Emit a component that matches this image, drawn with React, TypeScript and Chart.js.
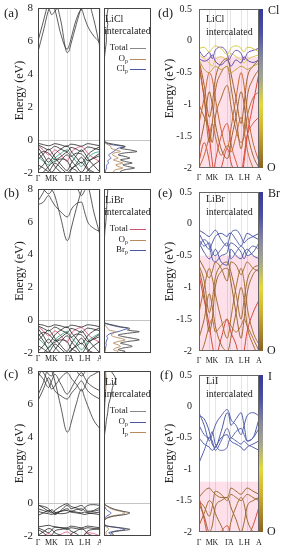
import React, { useEffect, useRef } from "react";
import { Chart, registerables } from "chart.js";
Chart.register(...registerables);

const SERIF = "'Liberation Serif', 'Times New Roman', serif";

// ---------- axes / k-path ----------
const K_TICKS = [0, 0.577, 0.91, 1.577, 1.777, 2.354, 2.687, 3.354];
const K_LABELS = ["Γ", "M", "K", "Γ", "A", "L", "H", "A"];
const K_PATH = [0, 0.29, 0.577, 0.74, 0.91, 1.24, 1.577, 1.677, 1.777, 2.07, 2.354, 2.52, 2.687, 3.02, 3.354];
const WIDE_Y_TICKS = [-2, 0, 2, 4, 6, 8];
const ZOOM_Y_TICKS = [-2, -1.5, -1, -0.5, 0, 0.5];

// ---------- (a) LiCl wide bands ----------
const A_BANDS = [
  [6.0, 7.2, 8.4, 8.8, 8.6, 7.2, 5.3, 5.4, 5.8, 7.0, 8.1, 8.6, 8.5, 7.3, 5.6],
  [5.35, 6.6, 7.9, 8.2, 7.9, 6.4, 5.5, 5.7, 6.1, 7.3, 7.9, 7.4, 6.9, 6.3, 5.9],
  [8.6, 8.3, 8.0, 7.6, 7.8, 8.3, 8.7, 8.8, 8.7, 8.4, 7.9, 8.1, 8.4, 8.7, 8.9],
  [-0.2, -0.28, -0.35, -0.3, -0.22, -0.3, -0.4, -0.32, -0.25, -0.3, -0.38, -0.3, -0.22, -0.28, -0.35],
  [-0.3, -0.45, -0.6, -0.5, -0.38, -0.55, -0.7, -0.6, -0.45, -0.55, -0.7, -0.55, -0.42, -0.5, -0.6],
  [-0.45, -0.9, -1.35, -1.15, -0.85, -0.55, -0.35, -0.45, -0.65, -1.05, -1.4, -1.2, -0.9, -0.6, -0.4],
  [-1.2, -0.85, -0.55, -0.75, -1.05, -1.5, -1.85, -1.7, -1.45, -0.95, -0.6, -0.8, -1.1, -1.55, -1.95],
  [-1.85, -1.5, -1.1, -1.3, -1.6, -1.95, -2.15, -2.05, -1.85, -1.45, -1.05, -1.3, -1.7, -1.95, -2.15],
  [-0.75, -1.2, -1.75, -1.95, -1.75, -1.25, -0.9, -1.0, -1.2, -1.6, -1.95, -1.75, -1.4, -1.05, -0.8],
  [-2.2, -1.95, -1.6, -1.4, -1.3, -1.15, -1.25, -1.45, -1.65, -1.85, -2.2, -2.1, -1.85, -1.5, -1.25],
  [-1.5, -1.7, -1.9, -1.65, -1.4, -1.7, -2.0, -1.9, -1.75, -1.55, -1.35, -1.55, -1.8, -2.05, -2.2],
  [-0.9, -0.7, -0.8, -1.0, -1.2, -1.0, -0.75, -0.85, -1.0, -0.8, -0.85, -1.05, -1.25, -1.1, -0.95],
  [-1.0, -1.3, -1.5, -1.3, -1.1, -0.8, -0.6, -0.7, -0.9, -1.3, -1.6, -1.4, -1.1, -0.8, -0.7],
  [-0.35, -0.6, -0.9, -0.8, -0.6, -0.9, -1.3, -1.1, -0.8, -0.5, -0.4, -0.55, -0.8, -1.1, -1.3],
];
const A_COLORS = ["#333", "#333", "#333", "#222", "#222", "#222", "#222", "#222", "#222", "#222", "#222", "#222", "#2a9d7a", "#e0406a"];

// ---------- (b) LiBr wide bands ----------
const B_BANDS = [
  [7.25, 7.8, 8.4, 8.0, 7.6, 6.2, 4.85, 5.0, 5.5, 6.8, 7.9, 8.3, 8.2, 6.6, 5.2],
  [7.05, 7.2, 7.6, 7.3, 7.0, 6.6, 6.3, 6.4, 6.7, 7.1, 7.2, 6.6, 6.0, 5.6, 5.4],
  [8.3, 8.0, 7.7, 7.9, 8.3, 8.6, 8.8, 8.8, 8.6, 8.2, 7.6, 7.9, 8.3, 8.5, 8.7],
  [-0.25, -0.3, -0.4, -0.35, -0.28, -0.35, -0.45, -0.38, -0.3, -0.35, -0.42, -0.35, -0.28, -0.32, -0.4],
  [-0.35, -0.5, -0.65, -0.55, -0.42, -0.6, -0.75, -0.65, -0.5, -0.6, -0.75, -0.6, -0.48, -0.55, -0.65],
  [-0.5, -0.95, -1.4, -1.2, -0.9, -0.6, -0.4, -0.5, -0.7, -1.1, -1.45, -1.25, -0.95, -0.65, -0.45],
  [-1.25, -0.9, -0.6, -0.8, -1.1, -1.55, -1.9, -1.75, -1.5, -1.0, -0.65, -0.85, -1.15, -1.6, -2.0],
  [-1.9, -1.55, -1.15, -1.35, -1.65, -2.0, -2.2, -2.1, -1.9, -1.5, -1.1, -1.35, -1.75, -2.0, -2.2],
  [-0.8, -1.25, -1.8, -2.0, -1.8, -1.3, -0.95, -1.05, -1.25, -1.65, -2.0, -1.8, -1.45, -1.1, -0.85],
  [-2.2, -2.0, -1.65, -1.45, -1.35, -1.2, -1.3, -1.5, -1.7, -1.9, -2.2, -2.1, -1.9, -1.55, -1.3],
  [-1.55, -1.75, -1.95, -1.7, -1.45, -1.75, -2.05, -1.95, -1.8, -1.6, -1.4, -1.6, -1.85, -2.1, -2.2],
  [-0.95, -0.75, -0.85, -1.05, -1.25, -1.05, -0.8, -0.9, -1.05, -0.85, -0.9, -1.1, -1.3, -1.15, -1.0],
  [-1.1, -1.4, -1.7, -1.5, -1.2, -0.9, -0.7, -0.8, -1.0, -1.4, -1.8, -1.6, -1.3, -1.0, -0.8],
  [-0.4, -0.65, -0.95, -0.85, -0.65, -0.95, -1.35, -1.15, -0.85, -0.55, -0.45, -0.6, -0.85, -1.15, -1.35],
];
const B_COLORS = ["#333", "#333", "#333", "#222", "#222", "#222", "#222", "#222", "#222", "#222", "#222", "#222", "#2a9d7a", "#e0406a"];

// ---------- (c) LiI wide bands ----------
const C_BANDS = [
  [6.55, 7.3, 8.2, 8.0, 7.4, 5.8, 4.3, 4.4, 4.8, 6.0, 6.9, 6.4, 5.9, 5.0, 4.5],
  [6.2, 6.9, 7.6, 7.2, 6.8, 6.5, 6.3, 6.4, 6.6, 7.0, 7.4, 7.1, 6.8, 6.5, 6.3],
  [7.9, 7.5, 7.0, 7.4, 7.8, 7.2, 6.6, 6.7, 6.9, 7.5, 7.9, 7.6, 7.3, 7.0, 6.8],
  [8.3, 7.9, 7.3, 6.9, 7.1, 7.6, 7.9, 7.8, 7.6, 7.2, 6.8, 7.0, 7.5, 7.8, 8.0],
  [7.6, 8.2, 7.8, 7.7, 8.1, 8.4, 8.6, 8.5, 8.3, 8.0, 7.7, 7.9, 8.2, 8.4, 8.5],
  [-0.1, -0.3, -0.5, -0.6, -0.45, -0.2, -0.05, -0.1, -0.2, -0.3, -0.45, -0.3, -0.15, -0.1, -0.15],
  [-0.15, -0.2, -0.35, -0.55, -0.7, -0.45, -0.15, -0.2, -0.35, -0.25, -0.15, -0.3, -0.5, -0.45, -0.25],
  [-0.35, -0.45, -0.55, -0.4, -0.55, -0.65, -0.6, -0.55, -0.5, -0.55, -0.6, -0.55, -0.6, -0.65, -0.7],
  [-0.5, -0.6, -0.65, -0.7, -0.6, -0.5, -0.45, -0.5, -0.55, -0.6, -0.65, -0.7, -0.65, -0.6, -0.55],
  [-0.75, -0.6, -0.45, -0.5, -0.65, -0.5, -0.35, -0.4, -0.5, -0.4, -0.35, -0.45, -0.55, -0.5, -0.4],
  [-1.45, -1.4, -1.35, -1.4, -1.45, -1.5, -1.5, -1.45, -1.4, -1.45, -1.5, -1.45, -1.4, -1.45, -1.5],
  [-1.5, -1.65, -1.8, -1.65, -1.45, -1.5, -1.6, -1.55, -1.5, -1.55, -1.6, -1.55, -1.5, -1.55, -1.6],
  [-1.6, -1.8, -2.05, -1.95, -1.7, -1.6, -1.55, -1.6, -1.7, -1.85, -2.05, -1.9, -1.7, -1.6, -1.55],
  [-1.95, -1.75, -1.55, -1.6, -1.8, -1.95, -2.1, -2.05, -1.9, -1.7, -1.55, -1.65, -1.85, -2.0, -2.1],
  [-2.1, -2.0, -1.85, -1.95, -2.1, -1.9, -1.75, -1.8, -1.9, -2.05, -2.1, -1.95, -1.8, -1.85, -2.0],
];
const C_COLORS = ["#333", "#333", "#333", "#333", "#333", "#222", "#222", "#222", "#222", "#222", "#222", "#222", "#222", "#222", "#e0508a"];

// ---------- (d) LiCl zoomed, projected bands ----------
const D_BANDS = [
  [-0.12, -0.1, -0.18, -0.12, -0.08, -0.12, -0.22, -0.18, -0.12, -0.08, -0.12, -0.18, -0.1, -0.12, -0.18],
  [-0.15, -0.25, -0.18, -0.28, -0.15, -0.1, -0.2, -0.3, -0.25, -0.15, -0.2, -0.3, -0.2, -0.15, -0.12],
  [-0.28, -0.32, -0.28, -0.22, -0.32, -0.38, -0.3, -0.34, -0.4, -0.3, -0.35, -0.25, -0.3, -0.34, -0.3],
  [-0.22, -0.28, -0.35, -0.4, -0.3, -0.25, -0.3, -0.25, -0.2, -0.25, -0.3, -0.35, -0.3, -0.25, -0.22],
  [-0.3, -0.45, -0.5, -0.45, -0.4, -0.45, -0.4, -0.45, -0.5, -0.45, -0.4, -0.42, -0.45, -0.4, -0.35],
  [-0.3, -0.7, -1.2, -1.0, -0.6, -0.35, -0.28, -0.35, -0.5, -0.9, -1.3, -1.0, -0.6, -0.4, -0.3],
  [-0.4, -0.9, -1.6, -1.3, -0.8, -0.5, -0.4, -0.5, -0.7, -1.2, -1.7, -1.4, -0.9, -0.6, -0.45],
  [-1.3, -0.9, -0.5, -0.6, -0.9, -1.4, -1.7, -1.6, -1.4, -0.9, -0.5, -0.7, -1.1, -1.6, -1.9],
  [-1.7, -1.3, -0.8, -1.0, -1.3, -1.7, -1.85, -1.8, -1.6, -1.2, -0.8, -1.0, -1.4, -1.8, -2.0],
  [-0.35, -0.9, -1.5, -1.9, -2.2, -2.0, -1.7, -1.75, -1.9, -2.1, -2.2, -1.9, -1.5, -1.0, -0.5],
  [-2.0, -1.8, -1.5, -1.3, -1.5, -1.8, -1.65, -1.65, -1.75, -1.5, -1.2, -1.4, -1.7, -2.0, -2.2],
  [-1.0, -1.2, -1.4, -1.6, -1.2, -0.9, -0.7, -0.8, -1.0, -1.4, -1.6, -1.5, -1.2, -0.9, -0.8],
  [-1.9, -1.6, -1.9, -2.2, -1.9, -1.5, -1.3, -1.4, -1.6, -1.9, -2.1, -1.8, -1.5, -1.3, -1.2],
];
const D_COLORS = ["#d6c84a", "#6a4db0", "#5a48a8", "#d8cc50", "#b8a040", "#a0612e", "#a8682e", "#c8652e", "#9a6230", "#e0463a", "#c0703a", "#a86a30", "#d8503a"];

// ---------- (e) LiBr zoomed ----------
const E_BANDS = [
  [-0.1, -0.15, -0.2, -0.15, -0.1, -0.25, -0.35, -0.25, -0.15, -0.1, -0.2, -0.3, -0.25, -0.2, -0.15],
  [-0.15, -0.3, -0.4, -0.3, -0.2, -0.15, -0.2, -0.15, -0.15, -0.25, -0.35, -0.25, -0.15, -0.2, -0.25],
  [-0.25, -0.35, -0.3, -0.45, -0.5, -0.4, -0.3, -0.4, -0.55, -0.45, -0.35, -0.4, -0.5, -0.45, -0.3],
  [-0.3, -0.45, -0.55, -0.5, -0.4, -0.6, -0.65, -0.55, -0.4, -0.5, -0.55, -0.45, -0.4, -0.5, -0.55],
  [-0.35, -0.25, -0.35, -0.55, -0.6, -0.5, -0.45, -0.35, -0.3, -0.35, -0.45, -0.55, -0.45, -0.35, -0.4],
  [-0.55, -0.7, -0.85, -0.75, -0.6, -0.7, -0.9, -0.75, -0.6, -0.65, -0.8, -0.7, -0.6, -0.7, -0.75],
  [-0.65, -0.9, -1.4, -1.2, -0.85, -0.65, -0.6, -0.65, -0.75, -1.1, -1.5, -1.2, -0.9, -0.7, -0.65],
  [-0.7, -1.1, -1.7, -1.5, -1.0, -0.75, -0.7, -0.75, -0.9, -1.4, -1.8, -1.5, -1.1, -0.8, -0.7],
  [-1.4, -1.0, -0.7, -0.85, -1.1, -1.5, -1.8, -1.7, -1.5, -1.0, -0.7, -0.9, -1.3, -1.7, -1.9],
  [-1.8, -1.5, -1.1, -1.3, -1.6, -1.9, -2.0, -1.95, -1.8, -1.4, -1.0, -1.2, -1.6, -1.9, -2.1],
  [-0.8, -1.2, -1.6, -1.9, -2.1, -1.8, -1.5, -1.6, -1.7, -1.9, -2.2, -2.0, -1.7, -1.4, -1.2],
  [-2.1, -1.9, -1.6, -1.5, -1.7, -1.6, -1.5, -1.55, -1.6, -1.7, -1.6, -1.5, -1.6, -1.8, -2.0],
];
const E_COLORS = ["#4a55a8", "#4a55a8", "#5560aa", "#4a55a8", "#5560aa", "#a06a30", "#a06a30", "#9a6430", "#a87030", "#a06a30", "#d8443a", "#b07034"];

// ---------- (f) LiI zoomed ----------
const F_BANDS = [
  [-0.1, -0.3, -0.55, -0.45, -0.3, -0.15, -0.05, -0.1, -0.2, -0.3, -0.45, -0.3, -0.15, -0.1, -0.15],
  [-0.15, -0.2, -0.4, -0.6, -0.65, -0.4, -0.1, -0.15, -0.3, -0.2, -0.1, -0.3, -0.55, -0.5, -0.2],
  [-0.3, -0.45, -0.5, -0.4, -0.6, -0.7, -0.65, -0.55, -0.5, -0.55, -0.6, -0.55, -0.6, -0.65, -0.7],
  [-0.5, -0.6, -0.65, -0.7, -0.65, -0.5, -0.45, -0.5, -0.55, -0.6, -0.65, -0.7, -0.65, -0.6, -0.55],
  [-0.9, -0.7, -0.5, -0.55, -0.7, -0.55, -0.35, -0.4, -0.5, -0.4, -0.35, -0.45, -0.55, -0.5, -0.35],
  [-1.45, -1.35, -1.3, -1.35, -1.4, -1.45, -1.45, -1.4, -1.3, -1.35, -1.4, -1.35, -1.3, -1.35, -1.4],
  [-1.5, -1.6, -1.75, -1.6, -1.35, -1.4, -1.5, -1.45, -1.4, -1.45, -1.5, -1.45, -1.4, -1.45, -1.5],
  [-1.55, -1.75, -2.0, -1.9, -1.6, -1.5, -1.45, -1.5, -1.6, -1.8, -2.0, -1.85, -1.6, -1.5, -1.45],
  [-1.9, -1.7, -1.5, -1.55, -1.7, -1.9, -2.1, -2.0, -1.85, -1.6, -1.45, -1.55, -1.8, -2.0, -2.1],
  [-1.45, -1.8, -2.2, -2.3, -2.2, -2.0, -1.9, -1.95, -2.1, -2.2, -2.3, -2.2, -2.1, -1.9, -1.6],
];
const F_COLORS = ["#4d5aaa", "#4d5aaa", "#5862ac", "#4d5aaa", "#5862ac", "#9a6a30", "#a07034", "#9a6430", "#a06a30", "#d84a3a"];

// ---------- DOS ----------
const DOS_E = [8, 7.5, 7, 6.5, 6, 5.5, 5, 4.5, 4, 3, 2, 1, 0, -0.1, -0.2, -0.3, -0.4, -0.5, -0.6, -0.7, -0.8, -0.9, -1.0, -1.1, -1.2, -1.3, -1.4, -1.5, -1.6, -1.7, -1.8, -1.9, -2.0];
const DOS_A_TOTAL = [0.9, 0.6, 0.8, 0.5, 0.5, 0.3, 0.1, 0, 0, 0, 0, 0, 0, 0.2, 1.0, 3.0, 4.5, 3.5, 5.5, 7.0, 4.0, 3.0, 4.5, 5.5, 3.5, 4.5, 6.0, 4.0, 5.0, 6.5, 4.5, 3.5, 4.0];
const DOS_A_OP = [0.1, 0.1, 0.1, 0.1, 0.1, 0, 0, 0, 0, 0, 0, 0, 0, 0, 0.3, 1.0, 1.5, 1.5, 2.5, 3.5, 2.0, 1.8, 2.5, 3.0, 2.0, 3.0, 4.0, 2.5, 3.0, 4.0, 2.5, 2.0, 2.5];
const DOS_A_XP = [0.1, 0.1, 0.1, 0.1, 0.1, 0, 0, 0, 0, 0, 0, 0, 0, 0.1, 0.5, 2.0, 4.5, 3.0, 2.5, 2.0, 1.5, 1.0, 1.2, 1.5, 1.0, 0.8, 1.0, 0.6, 0.5, 0.6, 0.4, 0.3, 0.4];
const DOS_B_TOTAL = [0.8, 0.7, 0.6, 0.5, 0.4, 0.2, 0.1, 0, 0, 0, 0, 0, 0, 0, 0.5, 2.0, 3.5, 5.5, 5.0, 7.5, 5.0, 3.0, 4.0, 6.0, 7.5, 5.0, 3.5, 5.0, 6.0, 4.0, 3.0, 4.5, 3.5];
const DOS_B_OP = [0.1, 0.1, 0.1, 0.1, 0.1, 0, 0, 0, 0, 0, 0, 0, 0, 0, 0.1, 0.3, 0.5, 0.8, 1.0, 2.5, 2.0, 1.5, 2.0, 3.5, 4.5, 3.0, 2.0, 3.0, 3.5, 2.5, 2.0, 3.0, 2.5];
const DOS_B_XP = [0.1, 0.1, 0.1, 0.1, 0.1, 0, 0, 0, 0, 0, 0, 0, 0, 0, 0.3, 1.5, 3.0, 5.0, 4.0, 3.0, 1.5, 0.8, 0.6, 0.8, 0.6, 0.5, 0.4, 0.5, 0.4, 0.3, 0.3, 0.2, 0.2];
const DOS_C_TOTAL = [1.5, 2.5, 1.8, 1.5, 1.0, 0.8, 0.5, 0.3, 0.05, 0, 0, 0, 0, 0.2, 0.8, 1.5, 2.5, 4.0, 5.5, 4.5, 2.0, 0.8, 0.2, 0, 0, 0.1, 0.8, 3.5, 5.5, 3.0, 1.5, 2.0, 1.5];
const DOS_C_OP = [0.2, 0.3, 0.2, 0.2, 0.1, 0.1, 0, 0, 0, 0, 0, 0, 0, 0, 0.1, 0.3, 0.5, 1.0, 1.5, 1.2, 0.5, 0.2, 0, 0, 0, 0.1, 0.6, 3.0, 4.5, 2.5, 1.0, 1.5, 1.0];
const DOS_C_XP = [0.3, 0.5, 0.4, 0.3, 0.2, 0.1, 0.1, 0, 0, 0, 0, 0, 0, 0.2, 0.7, 1.2, 2.0, 3.5, 4.5, 3.5, 1.5, 0.6, 0.1, 0, 0, 0, 0.2, 0.8, 1.0, 0.6, 0.4, 0.5, 0.4];

const C_TOTAL = "#444";
const C_OP = "#b58a5c";
const C_XP = "#4a58a8";
const PINK = "rgba(252, 214, 226, 0.75)";
const BAR_STOPS: [number, string][] = [
  [0, "#35399c"], [0.15, "#4b50a2"], [0.32, "#8c8ca0"], [0.45, "#a9a98e"],
  [0.6, "#e2da3a"], [0.75, "#d2b232"], [0.9, "#a8822a"], [1, "#896222"],
];

type Txt = { t?: string; sub?: string; x: number; y: number; size?: number; align?: "left" | "right" | "center"; color?: string; line?: [number, number] };
type Overlay = { ox: number; oy: number; texts?: Txt[]; pinkFrom?: number; fermi?: number; frame?: string; bar?: [string, string] };

function overlayPlugin(o: Overlay) {
  return {
    id: "overlay",
    beforeDraw(chart: any) {
      const { ctx, chartArea: a } = chart;
      if (o.pinkFrom !== undefined) {
        const y = chart.scales.y.getPixelForValue(o.pinkFrom);
        ctx.save();
        ctx.fillStyle = PINK;
        ctx.fillRect(a.left, y, a.right - a.left, a.bottom - y);
        ctx.restore();
      }
    },
    beforeDatasetsDraw(chart: any) {
      const { ctx, chartArea: a } = chart;
      if (o.fermi !== undefined) {
        const y = Math.round(chart.scales.y.getPixelForValue(o.fermi)) + 0.5;
        ctx.save();
        ctx.strokeStyle = "#c4c4c4";
        ctx.lineWidth = 1;
        ctx.beginPath();
        ctx.moveTo(a.left, y);
        ctx.lineTo(a.right, y);
        ctx.stroke();
        ctx.restore();
      }
    },
    afterDraw(chart: any) {
      const { ctx, chartArea: a } = chart;
      ctx.save();
      if (o.frame) {
        ctx.strokeStyle = o.frame;
        ctx.lineWidth = 1;
        ctx.strokeRect(a.left + 0.5, a.top + 0.5, a.right - a.left - 1, a.bottom - a.top - 1);
      }
      if (o.bar) {
        const g = ctx.createLinearGradient(0, a.top, 0, a.bottom);
        BAR_STOPS.forEach(([s, c]) => g.addColorStop(s, c));
        ctx.fillStyle = g;
        ctx.fillRect(a.right, a.top, 4, a.bottom - a.top);
        ctx.fillStyle = "#222";
        ctx.font = `12px ${SERIF}`;
        ctx.textBaseline = "middle";
        ctx.textAlign = "left";
        ctx.fillText(o.bar[0], a.right + 9, a.top + 2);
        ctx.fillText(o.bar[1], a.right + 8, a.bottom);
      }
      for (const t of o.texts || []) {
        const x = t.x - o.ox;
        const y = t.y - o.oy;
        if (t.line) {
          ctx.strokeStyle = t.color || "#222";
          ctx.lineWidth = 1;
          ctx.beginPath();
          ctx.moveTo(t.line[0] - o.ox, Math.round(y) + 0.5);
          ctx.lineTo(t.line[1] - o.ox, Math.round(y) + 0.5);
          ctx.stroke();
          continue;
        }
        const size = t.size || 10;
        const subSize = Math.round(size * 0.7);
        ctx.textBaseline = "middle";
        ctx.textAlign = "left";
        ctx.fillStyle = t.color || "#222";
        ctx.font = `${size}px ${SERIF}`;
        const w1 = ctx.measureText(t.t || "").width;
        let w2 = 0;
        if (t.sub) {
          ctx.font = `${subSize}px ${SERIF}`;
          w2 = ctx.measureText(t.sub).width;
        }
        let sx = x;
        if (t.align === "right") sx = x - w1 - w2;
        else if (t.align === "center") sx = x - (w1 + w2) / 2;
        ctx.font = `${size}px ${SERIF}`;
        ctx.fillText(t.t || "", sx, y);
        if (t.sub) {
          ctx.font = `${subSize}px ${SERIF}`;
          ctx.fillText(t.sub, sx + w1, y + size * 0.32);
        }
      }
      ctx.restore();
    },
  };
}

type BandP = {
  bands: number[][]; colors: string[]; lw: number;
  yMin: number; yMax: number; yTicks: number[]; tickSize: number; tickPad: number;
  padL: number; axisW: number; padT: number; padR: number; xH: number; xPad: number;
};

function bandConfig(p: BandP, ov: Overlay): any {
  return {
    type: "line",
    data: {
      datasets: p.bands.map((b, i) => ({
        data: K_PATH.map((x, j) => ({ x, y: b[j] })),
        borderColor: p.colors[i],
        borderWidth: p.lw,
        pointRadius: 0,
        fill: false,
        cubicInterpolationMode: "monotone",
      })),
    },
    options: {
      animation: false,
      responsive: false,
      events: [],
      layout: { padding: { left: p.padL, top: p.padT, right: p.padR, bottom: 0 } },
      plugins: { legend: { display: false }, tooltip: { enabled: false } },
      scales: {
        x: {
          type: "linear",
          min: K_TICKS[0],
          max: K_TICKS[K_TICKS.length - 1],
          afterBuildTicks: (s: any) => { s.ticks = K_TICKS.map((v) => ({ value: v })); },
          afterFit: (s: any) => { s.height = p.xH; s.paddingLeft = 0; s.paddingRight = 0; },
          grid: { color: "rgba(0,0,0,0.13)", lineWidth: 0.8, drawTicks: false },
          border: { display: false },
          ticks: {
            autoSkip: false, maxRotation: 0, minRotation: 0, padding: p.xPad, color: "#222",
            font: { family: SERIF, size: 8 },
            callback: (_v: any, i: number) => K_LABELS[i],
          },
        },
        y: {
          min: p.yMin,
          max: p.yMax,
          afterBuildTicks: (s: any) => { s.ticks = p.yTicks.map((v) => ({ value: v })); },
          afterFit: (s: any) => { s.width = p.axisW; s.paddingTop = 0; s.paddingBottom = 0; },
          grid: { display: false, drawTicks: false },
          border: { display: false },
          ticks: { padding: p.tickPad, color: "#222", font: { family: SERIF, size: p.tickSize }, callback: (v: any) => String(v) },
          title: { display: true, text: "Energy (eV)", color: "#222", font: { family: SERIF, size: 12 }, padding: { top: 0, bottom: 0 } },
        },
      },
    },
    plugins: [overlayPlugin(ov)],
  };
}

function dosConfig(series: number[][], colors: string[], pad: { left: number; right: number; top: number; bottom: number }, ov: Overlay): any {
  return {
    type: "line",
    data: {
      datasets: series.map((s, i) => ({
        data: DOS_E.map((e, j) => ({ x: s[j], y: e })),
        borderColor: colors[i],
        borderWidth: 0.9,
        pointRadius: 0,
        fill: false,
        tension: 0.3,
      })),
    },
    options: {
      animation: false,
      responsive: false,
      events: [],
      layout: { padding: pad },
      plugins: { legend: { display: false }, tooltip: { enabled: false } },
      scales: {
        x: { type: "linear", min: 0, max: 10, display: false },
        y: { type: "linear", min: -2, max: 8, display: false },
      },
    },
    plugins: [overlayPlugin(ov)],
  };
}

function ChartCanvas(props: { left: number; top: number; width: number; height: number; make: () => any }) {
  const ref = useRef<HTMLCanvasElement>(null);
  useEffect(() => {
    const chart = new Chart(ref.current as HTMLCanvasElement, props.make());
    return () => chart.destroy();
  }, []);
  return (
    <canvas
      ref={ref}
      width={props.width}
      height={props.height}
      style={{ position: "absolute", left: props.left, top: props.top, width: props.width, height: props.height }}
    />
  );
}

const LEFT_BASE = { lw: 0.8, yMin: -2, yMax: 8, yTicks: WIDE_Y_TICKS, tickSize: 11, tickPad: 5, padL: 13, axisW: 25, padR: 1 };
const RIGHT_BASE = { lw: 1, yMin: -2, yMax: 0.5, yTicks: ZOOM_Y_TICKS, tickSize: 10, tickPad: 7, padL: 22, axisW: 36, padR: 23 };

function dosTexts(top: number, name: string, xs: string, colors: string[]): Txt[] {
  return [
    { t: name, x: 105, y: top + 11, size: 10 },
    { t: "intercalated", x: 104, y: top + 23, size: 10 },
    { t: "Total", x: 128, y: top + 40, size: 9, align: "right" },
    { line: [130, 146], x: 0, y: top + 40, color: colors[0] },
    { t: "O", sub: "p", x: 128, y: top + 51, size: 9, align: "right" },
    { line: [130, 146], x: 0, y: top + 51, color: colors[1] },
    { t: xs, sub: "p", x: 128, y: top + 61, size: 9, align: "right" },
    { line: [130, 146], x: 0, y: top + 61, color: colors[2] },
  ];
}

export default function App() {
  const charts = [
    // left band panels
    { left: 0, top: 0, width: 101, height: 183, make: () => bandConfig({ ...LEFT_BASE, bands: A_BANDS, colors: A_COLORS, padT: 8, xH: 10, xPad: 1 }, { ox: 0, oy: 0, frame: "#444", fermi: 0, texts: [{ t: "(a)", x: 4, y: 14, size: 13 }] }) },
    { left: 0, top: 180, width: 101, height: 183, make: () => bandConfig({ ...LEFT_BASE, bands: B_BANDS, colors: B_COLORS, padT: 9, xH: 10, xPad: 1 }, { ox: 0, oy: 180, frame: "#444", fermi: 0, texts: [{ t: "(b)", x: 4, y: 194, size: 13 }] }) },
    { left: 0, top: 362, width: 101, height: 186, make: () => bandConfig({ ...LEFT_BASE, bands: C_BANDS, colors: C_COLORS, padT: 9, xH: 12, xPad: 2 }, { ox: 0, oy: 362, frame: "#444", fermi: 0, texts: [{ t: "(c)", x: 4, y: 375, size: 13 }] }) },
    // DOS panels
    { left: 100, top: 0, width: 53, height: 183, make: () => dosConfig([DOS_A_TOTAL, DOS_A_OP, DOS_A_XP], [C_TOTAL, C_OP, C_XP], { left: 4, right: 2, top: 8, bottom: 10 }, { ox: 100, oy: 0, frame: "#444", fermi: 0, texts: dosTexts(8, "LiCl", "Cl", ["#888", C_OP, C_XP]) }) },
    { left: 100, top: 180, width: 53, height: 183, make: () => dosConfig([DOS_B_TOTAL, DOS_B_OP, DOS_B_XP], [C_TOTAL, C_OP, C_XP], { left: 4, right: 2, top: 9, bottom: 10 }, { ox: 100, oy: 180, frame: "#444", fermi: 0, texts: dosTexts(189, "LiBr", "Br", ["#d05070", C_OP, C_XP]) }) },
    { left: 100, top: 362, width: 53, height: 186, make: () => dosConfig([DOS_C_TOTAL, DOS_C_OP, DOS_C_XP], [C_TOTAL, C_XP, C_OP], { left: 4, right: 2, top: 9, bottom: 12 }, { ox: 100, oy: 362, frame: "#444", fermi: 0, texts: dosTexts(371, "LiI", "I", ["#888", C_XP, C_OP]) }) },
    // right projected panels
    { left: 141, top: 0, width: 141, height: 182, make: () => bandConfig({ ...RIGHT_BASE, bands: D_BANDS, colors: D_COLORS, padT: 9, xH: 14, xPad: 5 }, { ox: 141, oy: 0, frame: "#666", pinkFrom: -0.25, bar: ["Cl", "O"], texts: [{ t: "(d)", x: 158, y: 14, size: 13 }, { t: "LiCl", x: 206, y: 19, size: 10 }, { t: "intercalated", x: 206, y: 32, size: 10 }] }) },
    { left: 141, top: 183, width: 141, height: 182, make: () => bandConfig({ ...RIGHT_BASE, bands: E_BANDS, colors: E_COLORS, padT: 9, xH: 14, xPad: 5 }, { ox: 141, oy: 183, frame: "#666", pinkFrom: -0.5, bar: ["Br", "O"], texts: [{ t: "(e)", x: 158, y: 194, size: 13 }, { t: "LiBr", x: 206, y: 199, size: 10 }, { t: "intercalated", x: 206, y: 212, size: 10 }] }) },
    { left: 141, top: 366, width: 141, height: 180, make: () => bandConfig({ ...RIGHT_BASE, bands: F_BANDS, colors: F_COLORS, padT: 9, xH: 14, xPad: 6 }, { ox: 141, oy: 366, frame: "#666", pinkFrom: -1.2, bar: ["I", "O"], texts: [{ t: "(f)", x: 160, y: 376, size: 13 }, { t: "LiI", x: 206, y: 381, size: 10 }, { t: "intercalated", x: 206, y: 394, size: 10 }] }) },
  ];
  return (
    <div style={{ position: "absolute", left: 0, top: 0, width: 282, height: 550, background: "#fff", overflow: "hidden" }}>
      {charts.map((c, i) => (
        <ChartCanvas key={i} left={c.left} top={c.top} width={c.width} height={c.height} make={c.make} />
      ))}
    </div>
  );
}
